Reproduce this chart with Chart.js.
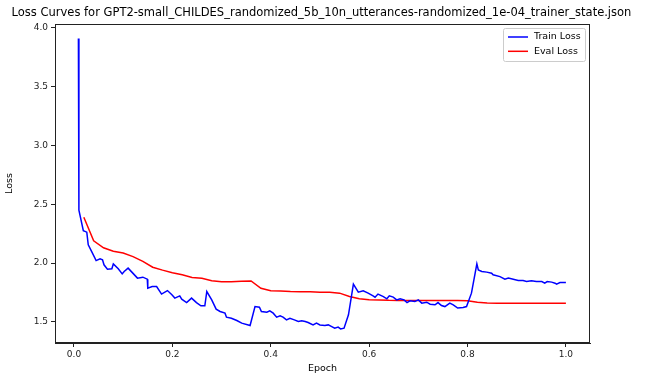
<!DOCTYPE html>
<html>
<head>
<meta charset="utf-8">
<script src="https://cdn.jsdelivr.net/npm/chart.js@4"></script>
<style>
  html, body { margin: 0; padding: 0; background: #fff; }
  #chart { display: block; }
</style>
</head>
<body>
<canvas id="chart" width="645" height="378"></canvas>
<script>
//Train loss, logged about every 0.01 epoch
const trainEpochs = [0.009, 0.010, 0.019, 0.026, 0.029, 0.036, 0.045, 0.053, 0.058, 0.061,
  0.068, 0.077, 0.080, 0.090, 0.098, 0.102, 0.110, 0.121, 0.129, 0.140,
  0.149, 0.150, 0.159, 0.168, 0.178, 0.190, 0.199, 0.205, 0.215, 0.219,
  0.229, 0.239, 0.249, 0.258, 0.266, 0.270, 0.280, 0.289, 0.297, 0.307,
  0.310, 0.320, 0.331, 0.341, 0.358, 0.368, 0.377, 0.381, 0.392, 0.398,
  0.405, 0.412, 0.419, 0.425, 0.432, 0.439, 0.448, 0.456, 0.463, 0.470,
  0.476, 0.486, 0.493, 0.500, 0.510, 0.517, 0.524, 0.530, 0.537, 0.542,
  0.549, 0.558, 0.568, 0.578, 0.588, 0.598, 0.608, 0.612, 0.618, 0.629,
  0.636, 0.641, 0.649, 0.656, 0.663, 0.671, 0.677, 0.683, 0.693, 0.700,
  0.707, 0.717, 0.724, 0.734, 0.740, 0.747, 0.754, 0.764, 0.771, 0.780,
  0.791, 0.798, 0.808, 0.819, 0.822, 0.829, 0.839, 0.849, 0.852, 0.866,
  0.876, 0.883, 0.893, 0.903, 0.913, 0.920, 0.930, 0.940, 0.951, 0.957,
  0.962, 0.971, 0.978, 0.981, 0.988, 1.000];
const trainLoss = [3.91, 2.45, 2.276, 2.263, 2.155, 2.098, 2.021, 2.036, 2.027, 1.985,
  1.948, 1.951, 1.993, 1.951, 1.908, 1.928, 1.957, 1.908, 1.872, 1.880,
  1.863, 1.787, 1.800, 1.800, 1.736, 1.766, 1.730, 1.702, 1.721, 1.693,
  1.664, 1.702, 1.664, 1.636, 1.636, 1.758, 1.687, 1.608, 1.588, 1.574,
  1.540, 1.531, 1.511, 1.489, 1.469, 1.630, 1.625, 1.588, 1.582, 1.594,
  1.574, 1.540, 1.551, 1.540, 1.517, 1.531, 1.517, 1.503, 1.509, 1.503,
  1.494, 1.474, 1.489, 1.474, 1.469, 1.474, 1.460, 1.446, 1.455, 1.440,
  1.446, 1.560, 1.821, 1.752, 1.764, 1.744, 1.721, 1.710, 1.736, 1.715,
  1.696, 1.721, 1.710, 1.687, 1.696, 1.687, 1.664, 1.679, 1.673, 1.687,
  1.659, 1.667, 1.650, 1.645, 1.664, 1.639, 1.630, 1.659, 1.645, 1.617,
  1.622, 1.630, 1.744, 1.993, 1.942, 1.928, 1.923, 1.914, 1.900, 1.885,
  1.863, 1.872, 1.863, 1.851, 1.851, 1.843, 1.849, 1.843, 1.843, 1.829,
  1.843, 1.838, 1.829, 1.821, 1.834, 1.834];

//Eval loss, every 0.02 epoch
const evalEpochs = [0.02, 0.04, 0.06, 0.08, 0.10, 0.12, 0.14, 0.16, 0.18, 0.20,
  0.22, 0.24, 0.26, 0.28, 0.30, 0.32, 0.34, 0.36, 0.38, 0.40,
  0.42, 0.44, 0.46, 0.48, 0.50, 0.52, 0.54, 0.56, 0.58, 0.60,
  0.62, 0.64, 0.66, 0.68, 0.70, 0.72, 0.74, 0.76, 0.78, 0.80,
  0.82, 0.84, 0.86, 0.88, 0.90, 0.92, 0.94, 0.96, 0.98, 1.00];
const evalLoss = [2.39, 2.19, 2.13, 2.10, 2.085, 2.055, 2.015, 1.965, 1.94, 1.918,
  1.90, 1.877, 1.870, 1.849, 1.842, 1.842, 1.845, 1.848, 1.785, 1.765,
  1.762, 1.758, 1.757, 1.755, 1.752, 1.752, 1.744, 1.716, 1.697, 1.688,
  1.686, 1.683, 1.682, 1.681, 1.681, 1.681, 1.681, 1.681, 1.681, 1.680,
  1.666, 1.660, 1.659, 1.659, 1.659, 1.659, 1.659, 1.659, 1.659, 1.659];

//Tick labels
const xTicks = [0.0, 0.2, 0.4, 0.6, 0.8, 1.0];
const xTickLabels = ["0.0", "0.2", "0.4", "0.6", "0.8", "1.0"];
const yTicks = [1.5, 2.0, 2.5, 3.0, 3.5, 4.0];
const yTickLabels = ["1.5", "2.0", "2.5", "3.0", "3.5", "4.0"];

const titleText = "Loss Curves for GPT2-small_CHILDES_randomized_5b_10n_utterances-randomized_1e-04_trainer_state.json";
const FONT = "'DejaVu Sans', sans-serif";

const toPoints = (xs, ys) => xs.map((x, i) => ({ x: x, y: ys[i] }));

//title, box around the axes and the legend, matplotlib style
const mplPlugin = {
  id: "mpl",
  afterDraw(chart) {
    const ctx = chart.ctx;
    const a = chart.chartArea;
    ctx.save();
    ctx.strokeStyle = "#222";
    ctx.lineWidth = 1;
    ctx.strokeRect(a.left + 0.5, a.top + 0.5, a.right - a.left - 1, a.bottom - a.top - 1);

    ctx.fillStyle = "#000";
    ctx.font = "11.5px " + FONT;
    ctx.textAlign = "center";
    ctx.textBaseline = "middle";
    ctx.fillText(titleText, (a.left + a.right) / 2 - 1, 13);

    //legend
    const bx = a.right - 87, by = a.top + 4, bw = 82, bh = 33;
    ctx.fillStyle = "rgba(255,255,255,0.8)";
    ctx.strokeStyle = "#ccc";
    ctx.beginPath();
    ctx.roundRect(bx + 0.5, by + 0.5, bw, bh, 2);
    ctx.fill();
    ctx.stroke();
    ctx.font = "9.5px " + FONT;
    ctx.textAlign = "left";
    chart.data.datasets.forEach((ds, i) => {
      const yy = by + 9 + i * 14.3;
      ctx.strokeStyle = ds.borderColor;
      ctx.lineWidth = 1.5;
      ctx.beginPath();
      ctx.moveTo(bx + 5, yy);
      ctx.lineTo(bx + 25, yy);
      ctx.stroke();
      ctx.fillStyle = "#000";
      ctx.fillText(ds.label, bx + 31, yy);
    });
    ctx.restore();
  },
};

new Chart(document.getElementById("chart"), {
  type: "line",
  plugins: [mplPlugin],
  data: {
    datasets: [
      {
        label: "Train Loss",
        data: toPoints(trainEpochs, trainLoss),
        borderColor: "#0000ff",
        borderWidth: 1.5,
        pointRadius: 0,
        tension: 0,
      },
      {
        label: "Eval Loss",
        data: toPoints(evalEpochs, evalLoss),
        borderColor: "#ff0000",
        borderWidth: 1.5,
        pointRadius: 0,
        tension: 0,
      },
    ],
  },
  options: {
    responsive: false,
    animation: false,
    layout: { padding: { top: 24, right: 55, left: 0, bottom: 0 } },
    plugins: {
      legend: { display: false },
      title: { display: false },
      tooltip: { enabled: false },
    },
    scales: {
      x: {
        type: "linear",
        min: -0.0386,
        max: 1.049,
        afterBuildTicks: (s) => { s.ticks = xTicks.map((v) => ({ value: v })); },
        afterFit: (s) => { s.height = 35; },
        grid: { drawOnChartArea: false, drawTicks: true, tickLength: 4, color: "#222" },
        border: { display: true, color: "#222" },
        ticks: {
          color: "#222",
          font: { family: FONT, size: 9 },
          padding: 2,
          maxRotation: 0,
          callback: (v) => xTickLabels[xTicks.indexOf(v)],
        },
        title: { display: true, text: "Epoch", color: "#000", font: { family: FONT, size: 9.5 }, padding: { top: 0 } },
      },
      y: {
        type: "linear",
        min: 1.32,
        max: 4.034,
        afterBuildTicks: (s) => { s.ticks = yTicks.map((v) => ({ value: v })); },
        afterFit: (s) => { s.width = 55; },
        grid: { drawOnChartArea: false, drawTicks: true, tickLength: 4, color: "#222" },
        border: { display: true, color: "#222" },
        ticks: {
          color: "#222",
          font: { family: FONT, size: 9 },
          padding: 3,
          callback: (v) => yTickLabels[yTicks.indexOf(v)],
        },
        title: { display: true, text: "Loss", color: "#000", font: { family: FONT, size: 9.5 }, padding: { bottom: 6 } },
      },
    },
  },
});
</script>
</body>
</html>
